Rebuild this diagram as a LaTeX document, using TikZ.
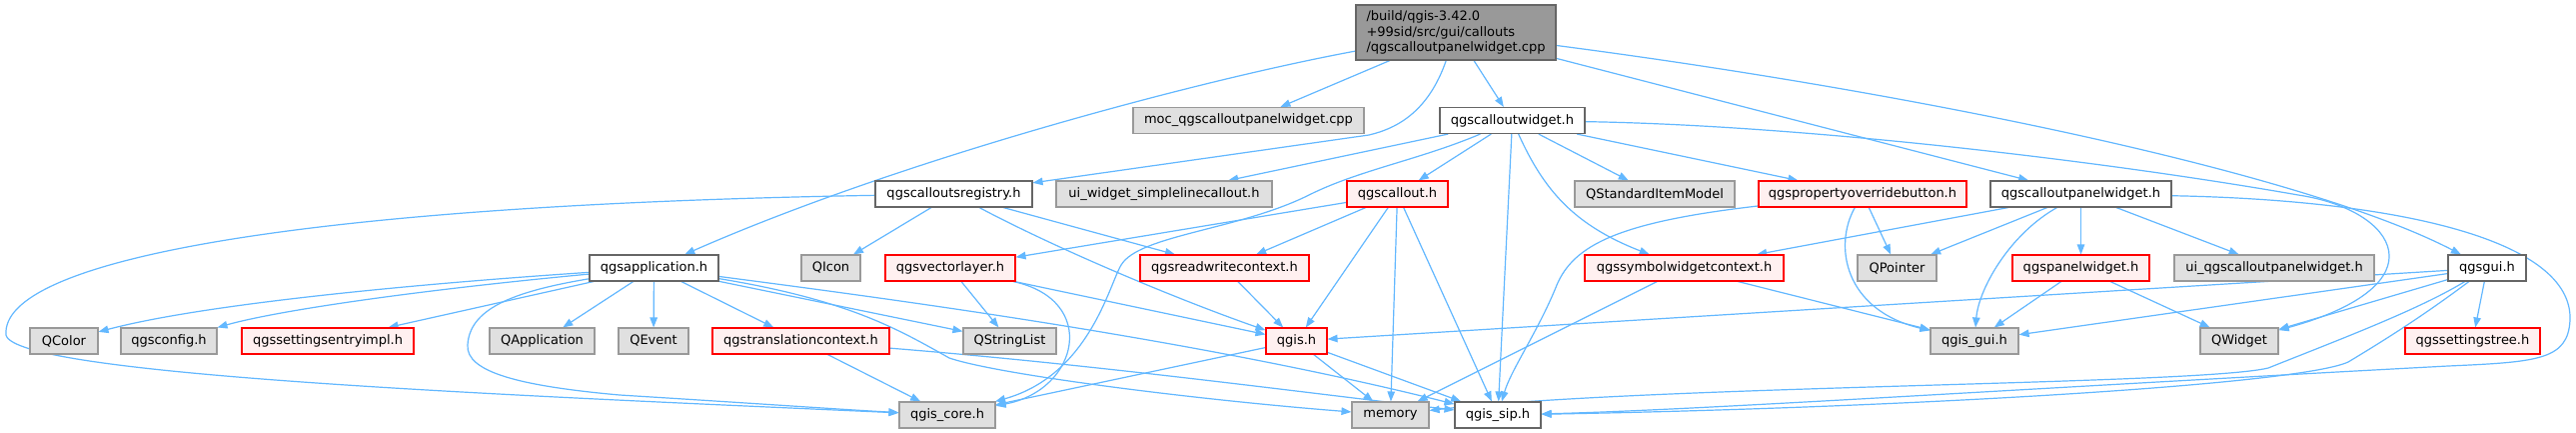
\documentclass[tikz,border=0pt]{standalone}
\usepackage{fontspec}
\setmainfont{DejaVu Sans}
\usetikzlibrary{arrows.meta}
\definecolor{edgec}{HTML}{63B8FF}
\definecolor{grayfill}{HTML}{E0E0E0}
\definecolor{graydraw}{HTML}{999999}
\definecolor{darkdraw}{HTML}{666666}
\definecolor{redfill}{HTML}{FFF0F0}
\definecolor{reddraw}{HTML}{FF0000}
\definecolor{mainfill}{HTML}{999999}
\pgfdeclarelayer{back}
\pgfdeclarelayer{bg}
\pgfsetlayers{back,bg,main}
\begin{document}
\begin{tikzpicture}[x=1pt,y=-1pt,
  box/.style={rectangle, inner sep=0pt, minimum height=26pt, line width=1.1pt,
    font=\fontsize{13}{15.5}\selectfont},
  wbox/.style={box, draw=darkdraw, fill=white},
  gbox/.style={box, draw=graydraw, fill=grayfill},
  rbox/.style={box, draw=reddraw, fill=redfill},
  mbox/.style={box, draw=darkdraw, fill=mainfill, minimum height=55pt, align=left},
  dep/.style={draw=edgec, line width=1.2pt, -{Triangle[length=10pt,width=7.5pt]}}]
\useasboundingbox (0,0) rectangle (2578,432);
\begin{pgfonlayer}{back}
\fill[white] (0,0) rectangle (2578,432);
\end{pgfonlayer}
% nodes
\node[mbox, minimum width=200pt] (main) at (1457,32.5) {/build/qgis-3.42.0\\+99sid/src/gui/callouts\\/qgscalloutpanelwidget.cpp};
\node[gbox, minimum width=231pt] (moc) at (1249.5,120.5) {moc\_qgscalloutpanelwidget.cpp};
\node[wbox, minimum width=145pt] (cw) at (1513.5,120.5) {qgscalloutwidget.h};
\node[wbox, minimum width=157pt] (reg) at (954.5,194) {qgscalloutsregistry.h};
\node[gbox, minimum width=216pt] (uiw) at (1165,194) {ui\_widget\_simplelinecallout.h};
\node[rbox, minimum width=101pt] (callout) at (1398.5,194) {qgscallout.h};
\node[gbox, minimum width=160pt] (qsim) at (1656,194) {QStandardItemModel};
\node[rbox, minimum width=208pt] (pob) at (1864,194) {qgspropertyoverridebutton.h};
\node[wbox, minimum width=181pt] (cpw) at (2082.5,194) {qgscalloutpanelwidget.h};
\node[wbox, minimum width=129pt] (app) at (654.5,268) {qgsapplication.h};
\node[gbox, minimum width=59pt] (qicon) at (831.5,268) {QIcon};
\node[rbox, minimum width=130pt] (vl) at (951,268) {qgsvectorlayer.h};
\node[rbox, minimum width=169pt] (rwc) at (1225.5,268) {qgsreadwritecontext.h};
\node[rbox, minimum width=199pt] (swc) at (1685.5,268) {qgssymbolwidgetcontext.h};
\node[gbox, minimum width=79pt] (qpointer) at (1898.5,268) {QPointer};
\node[rbox, minimum width=137pt] (pw) at (2082.5,268) {qgspanelwidget.h};
\node[gbox, minimum width=200pt] (uicpw) at (2276,268) {ui\_qgscalloutpanelwidget.h};
\node[wbox, minimum width=78pt] (gui) at (2489,268) {qgsgui.h};
\node[gbox, minimum width=68pt] (qcolor) at (64,341) {QColor};
\node[gbox, minimum width=96pt] (qconf) at (169,341) {qgsconfig.h};
\node[rbox, minimum width=172pt] (sei) at (328,341) {qgssettingsentryimpl.h};
\node[gbox, minimum width=105pt] (qapp) at (542.5,341) {QApplication};
\node[gbox, minimum width=70pt] (qevent) at (654,341) {QEvent};
\node[rbox, minimum width=177pt] (tc) at (801.5,341) {qgstranslationcontext.h};
\node[gbox, minimum width=93pt] (qsl) at (1010.5,341) {QStringList};
\node[rbox, minimum width=61pt] (qgis) at (1297.5,341) {qgis.h};
\node[gbox, minimum width=88pt] (qgui) at (1976,341) {qgis\_gui.h};
\node[gbox, minimum width=78pt] (qwidget) at (2241,341) {QWidget};
\node[rbox, minimum width=135pt] (st) at (2474.5,341) {qgssettingstree.h};
\node[gbox, minimum width=96pt] (core) at (948,415) {qgis\_core.h};
\node[gbox, minimum width=77pt] (mem) at (1391.5,415) {memory};
\node[wbox, minimum width=86pt] (sip) at (1499,415) {qgis\_sip.h};
% edges
\begin{pgfonlayer}{bg}
% main
\draw[dep] (main) .. controls (1200,80) and (900,160) .. (app);
\draw[dep] (main) -- (moc);
\draw[dep] (main) .. controls (1430,110) and (1400,128) .. (1370,135) -- (reg);
\draw[dep] (main) -- (cw);
\draw[dep] (main) -- (cpw);
\draw[dep] (main) .. controls (1900,90) and (2300,170) .. (gui);
% qgscalloutwidget.h
\draw[dep] (cw) -- (uiw);
\draw[dep] (cw) -- (callout);
\draw[dep] (cw) .. controls (1420,160) and (1360,170) .. (1310,195) .. controls (1240,230) and (1140,235) .. (1122,265) .. controls (1110,285) and (1090,375) .. (core);
\draw[dep] (cw) -- (sip);
\draw[dep] (cw) .. controls (1545,190) and (1575,225) .. (swc);
\draw[dep] (cw) -- (qsim);
\draw[dep] (cw) -- (pob);
\draw[dep] (cw) .. controls (1800,125) and (2100,160) .. (2300,195) .. controls (2400,210) and (2445,285) .. (qwidget);
% registry
\draw[dep] (reg) -- (qicon);
\draw[dep] (reg) .. controls (1060,250) and (1180,300) .. (qgis);
\draw[dep] (reg) -- (rwc);
\draw[dep] (reg) .. controls (300,205) and (0,260) .. (6,335) .. controls (15,375) and (500,395) .. (core);
% application
\draw[dep] (app) .. controls (400,285) and (200,305) .. (qcolor);
\draw[dep] (app) .. controls (420,290) and (280,310) .. (qconf);
\draw[dep] (app) -- (sei);
\draw[dep] (app) -- (qapp);
\draw[dep] (app) -- (qevent);
\draw[dep] (app) -- (tc);
\draw[dep] (app) -- (qsl);
\draw[dep] (app) .. controls (900,300) and (1200,340) .. (sip);
\draw[dep] (app) .. controls (850,300) and (900,330) .. (950,358) .. controls (1000,375) and (1200,400) .. (mem);
\draw[dep] (app) .. controls (510,292) and (470,310) .. (468,345) .. controls (466,372) and (520,386) .. (620,395) .. controls (750,403) and (850,410) .. (core);
% vectorlayer
\draw[dep] (vl) -- (qsl);
\draw[dep] (vl) .. controls (1100,300) and (1080,390) .. (core);
\draw[dep] (vl) -- (qgis);
% readwritecontext
\draw[dep] (rwc) -- (qgis);
% callout
\draw[dep] (callout) -- (vl);
\draw[dep] (callout) -- (rwc);
\draw[dep] (callout) -- (qgis);
\draw[dep] (callout) -- (mem);
\draw[dep] (callout) -- (sip);
% translationcontext
\draw[dep] (tc) -- (core);
\draw[dep] (tc) .. controls (1100,365) and (1300,392) .. (sip);
% qgis.h
\draw[dep] (qgis) -- (core);
\draw[dep] (qgis) -- (mem);
\draw[dep] (qgis) -- (sip);
% symbolwidgetcontext
\draw[dep] (swc) -- (mem);
\draw[dep] (swc) -- (qgui);
% propertyoverridebutton
\draw[dep] (pob) .. controls (1620,222) and (1575,245) .. (1558,285) .. controls (1540,330) and (1512,370) .. (sip);
\draw[dep] (pob) -- (qpointer);
\draw[dep] (pob) .. controls (1835,245) and (1845,310) .. (qgui);
% calloutpanelwidget.h
\draw[dep] (cpw) -- (swc);
\draw[dep] (cpw) -- (qpointer);
\draw[dep] (cpw) .. controls (2010,235) and (1980,290) .. (qgui);
\draw[dep] (cpw) -- (pw);
\draw[dep] (cpw) -- (uicpw);
\draw[dep] (cpw) .. controls (2400,200) and (2575,240) .. (2572,320) .. controls (2570,360) and (2540,362) .. (2450,366) .. controls (2000,390) and (1700,410) .. (sip);
% panelwidget
\draw[dep] (pw) -- (qgui);
\draw[dep] (pw) -- (qwidget);
% qgsgui.h
\draw[dep] (gui) -- (qgis);
\draw[dep] (gui) -- (qgui);
\draw[dep] (gui) -- (qwidget);
\draw[dep] (gui) -- (st);
\draw[dep] (gui) .. controls (2420,310) and (2340,340) .. (2270,368) .. controls (2200,385) and (1650,385) .. (mem);
\draw[dep] (gui) .. controls (2430,312) and (2395,335) .. (2350,362) .. controls (2300,385) and (1900,408) .. (sip);
\end{pgfonlayer}
\end{tikzpicture}
\end{document}
